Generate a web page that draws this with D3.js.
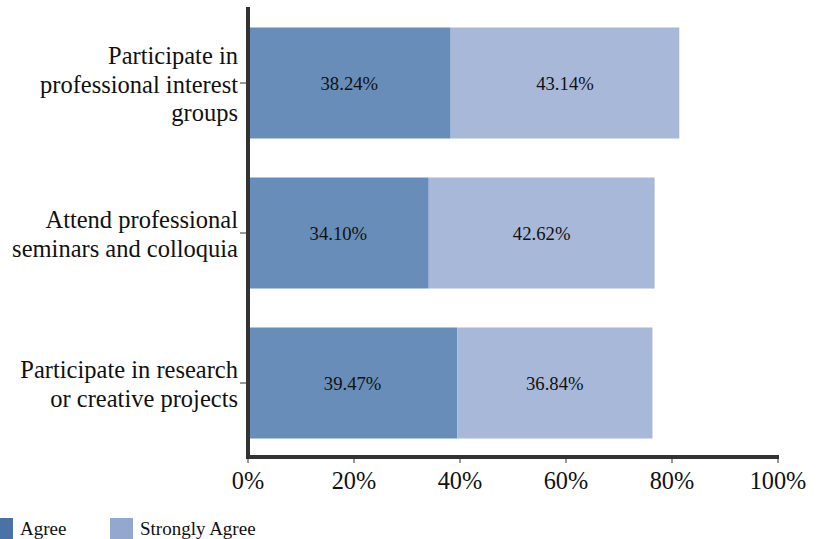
<!DOCTYPE html>
<html><head><meta charset="utf-8">
<script src="https://cdn.jsdelivr.net/npm/d3@7"></script>
<style>
body{margin:0;background:#fff;}
</style></head><body>
<svg id="c" width="823" height="539"></svg>
<script>
const categories = [
  ["Participate in", "professional interest", "groups"],
  ["Attend professional", "seminars and colloquia"],
  ["Participate in research", "or creative projects"]
];
const categoryKeys = ["interest", "seminars", "research"];
const agree = [38.24, 34.10, 39.47];
const stronglyAgree = [43.14, 42.62, 36.84];
const seriesNames = ["Agree", "Strongly Agree"];
const xTicks = [0, 20, 40, 60, 80, 100];

const FONT = "'Liberation Serif'";
const barColors = ["#678db8", "#a8b8d8"];
const legendColors = ["#4a72a6", "#94a8cf"];

const svg = d3.select("#c");
const x = d3.scaleLinear().domain([0, 100]).range([248, 778]);
const y = d3.scaleBand().domain(categoryKeys).range([8, 458]).paddingInner(0.26).paddingOuter(0.13);

const data = categoryKeys.map((k, i) => ({key: k, vals: [agree[i], stronglyAgree[i]]}));

const g = svg.append("g");
data.forEach((d, i) => {
  let start = 0;
  d.vals.forEach((v, j) => {
    const x0 = x(start), x1 = x(start + v);
    g.append("rect")
      .attr("x", j === 0 ? x0 + 2 : x0)
      .attr("y", y(d.key))
      .attr("width", j === 0 ? x1 - x0 - 2 : x1 - x0)
      .attr("height", y.bandwidth())
      .attr("fill", barColors[j]);
    g.append("text")
      .attr("x", (x0 + x1) / 2)
      .attr("y", y(d.key) + y.bandwidth() / 2 + 6.5)
      .attr("text-anchor", "middle")
      .style("font-family", FONT)
      .attr("font-size", 18.7)
      .attr("fill", "#111")
      .text(v.toFixed(2) + "%");
    start += v;
  });
});

// y axis
const yAxis = svg.append("g").attr("transform", "translate(248,0)");
yAxis.append("line").attr("x1", 0).attr("x2", 0).attr("y1", 7).attr("y2", 459)
  .attr("stroke", "#333").attr("stroke-width", 4);
categoryKeys.forEach((k, i) => {
  const cy = y(k) + y.bandwidth() / 2;
  yAxis.append("line").attr("x1", -8).attr("x2", 0).attr("y1", cy).attr("y2", cy)
    .attr("stroke", "#333").attr("stroke-width", 1);
  const lines = categories[i];
  const lh = 28.5;
  const t = yAxis.append("text")
    .attr("text-anchor", "end")
    .style("font-family", FONT)
    .attr("font-size", 24.5)
    .attr("fill", "#111");
  lines.forEach((ln, li) => {
    t.append("tspan").attr("x", -10)
      .attr("y", cy + 9.5 + (li - (lines.length - 1) / 2) * lh)
      .text(ln);
  });
});

// x axis
const xAxisG = svg.append("g").attr("transform", "translate(0,457)");
xAxisG.append("line").attr("x1", 246).attr("x2", x(100) + 1).attr("y1", 0).attr("y2", 0)
  .attr("stroke", "#333").attr("stroke-width", 4);
xTicks.forEach(t => {
  xAxisG.append("line").attr("x1", x(t)).attr("x2", x(t)).attr("y1", 0).attr("y2", 6)
    .attr("stroke", "#333").attr("stroke-width", 1);
  xAxisG.append("text").attr("x", x(t)).attr("y", 32)
    .attr("text-anchor", "middle").style("font-family", FONT).attr("font-size", 24.3).attr("fill", "#111")
    .text(t + "%");
});

// legend
const legX = [-10, 110];
seriesNames.forEach((n, i) => {
  svg.append("rect").attr("x", legX[i]).attr("y", 518).attr("width", 23).attr("height", 23)
    .attr("fill", legendColors[i]);
  svg.append("text").attr("x", legX[i] + 30).attr("y", 535)
    .style("font-family", FONT)
    .attr("font-size", 19).attr("fill", "#111").text(n);
});
</script>
</body></html>
